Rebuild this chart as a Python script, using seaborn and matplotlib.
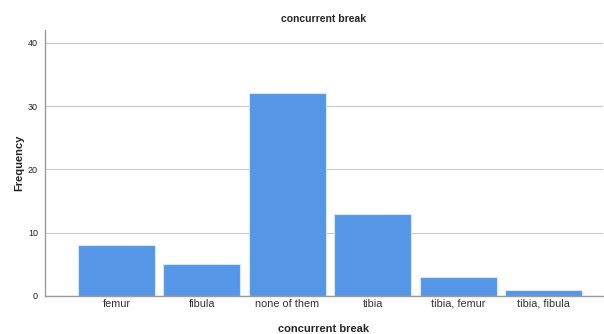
import pandas as pd
import seaborn as sns
import matplotlib.pyplot as plt

# Frequency counts per break category
categories = ['femur', 'fibula', 'none of them', 'tibia', 'tibia, femur', 'tibia, fibula']
counts = [8, 5, 32, 13, 3, 1]

df = pd.DataFrame({'concurrent break': categories, 'Frequency': counts})

sns.set_style('white')
plt.rcParams['font.family'] = ['Liberation Sans', 'DejaVu Sans']

fig = plt.figure(figsize=(6.04, 3.34), dpi=100)
ax = fig.add_axes([0.0745, 0.114, 0.924, 0.796])

sns.barplot(data=df, x='concurrent break', y='Frequency', color='#5596e6',
            width=0.9, edgecolor='#d8e6f8', linewidth=0.8, saturation=1, ax=ax)

ax.set_ylim(0, 42)
ax.set_xlim(-0.835, 5.695)
ax.set_yticks([0, 10, 20, 30, 40])
ax.yaxis.grid(True, color='#c8c8c8', linewidth=0.8)
ax.set_axisbelow(True)

for s in ['top', 'right']:
    ax.spines[s].set_visible(False)
for s in ['left', 'bottom']:
    ax.spines[s].set_color('#9a9a9a')
    ax.spines[s].set_linewidth(1.0)

ax.tick_params(axis='y', labelsize=6.5, length=3, color='#9a9a9a', pad=2)
ax.tick_params(axis='x', labelsize=7.8, length=0, pad=2, colors='#333333')
ax.tick_params(axis='y', colors='#222222')

ax.set_title('concurrent break', fontsize=7.5, fontweight='bold', pad=6)
ax.set_xlabel('concurrent break', fontsize=8, fontweight='bold', labelpad=11)
ax.set_ylabel('Frequency', fontsize=8, fontweight='bold', labelpad=3)

fig.savefig('out.png', dpi=100)
